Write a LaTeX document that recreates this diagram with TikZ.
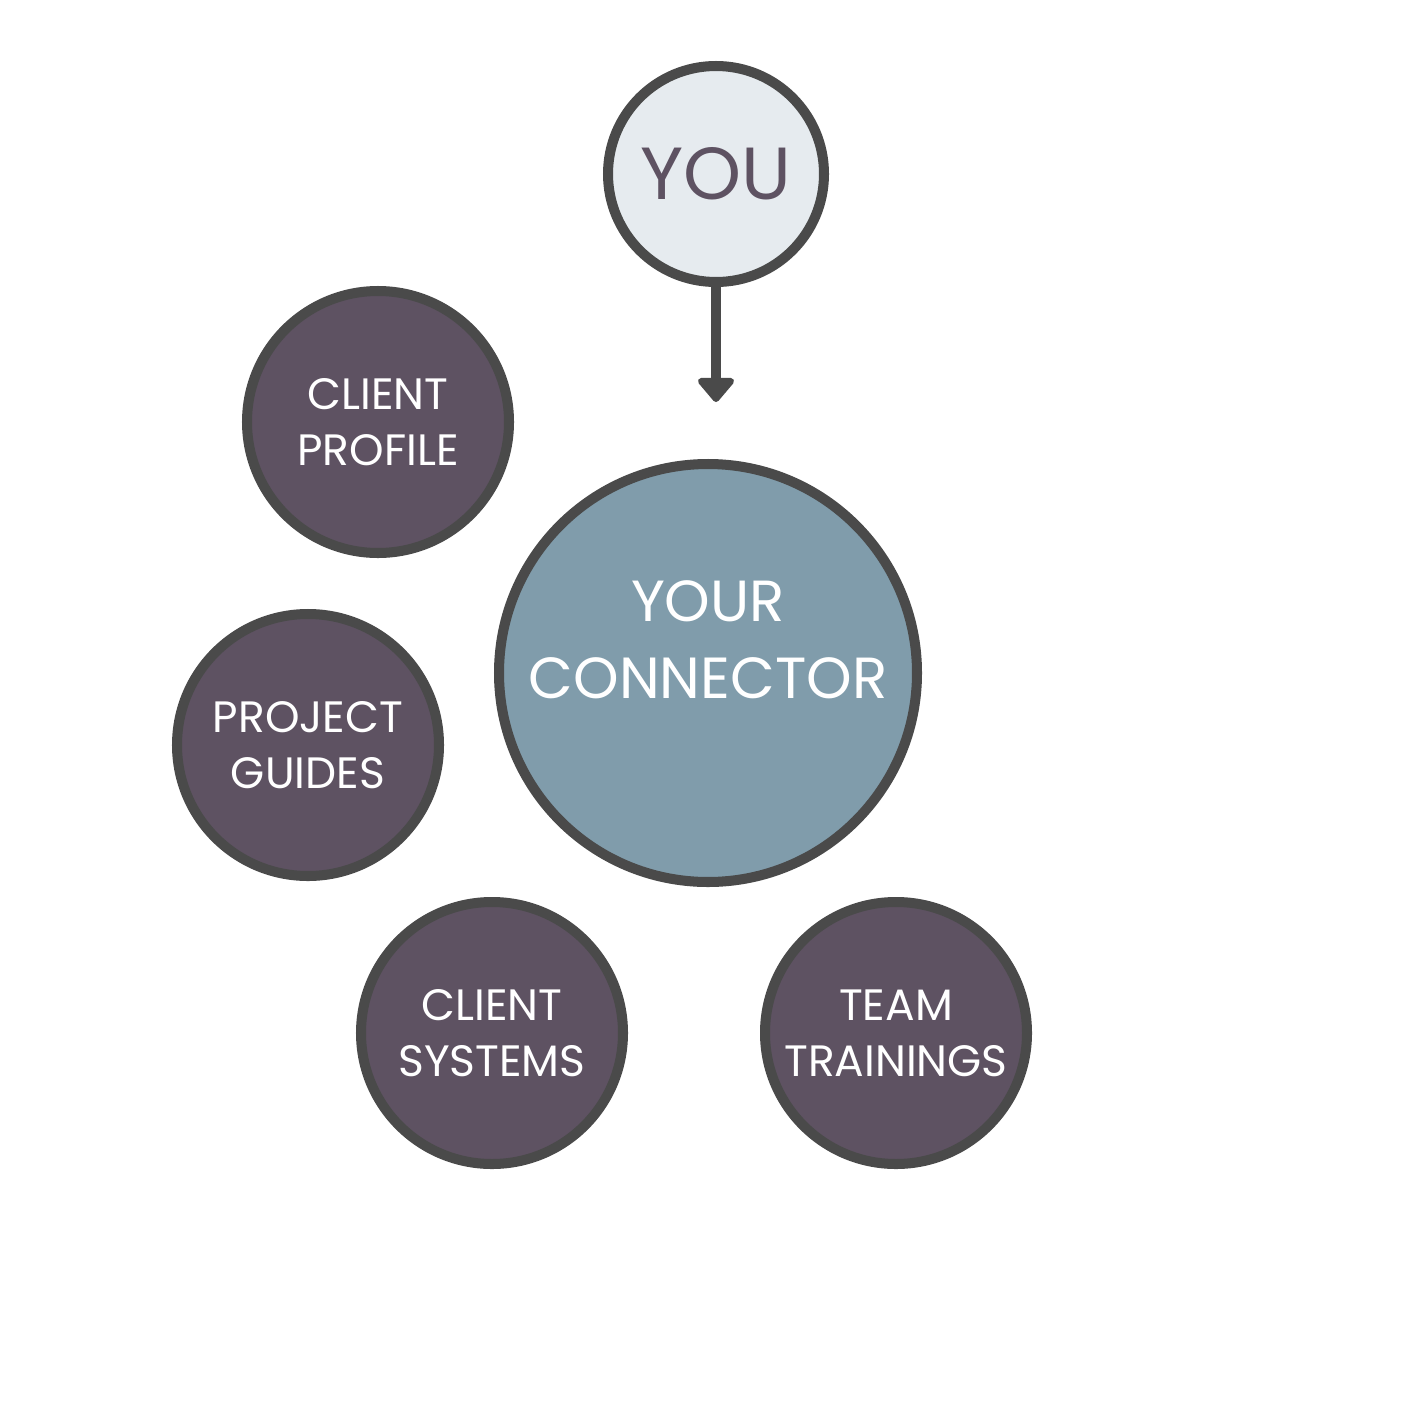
\documentclass[tikz,border=0pt]{standalone}
\usepackage{fontspec}
\setmainfont{Poppins}
\usetikzlibrary{positioning,arrows.meta}
\definecolor{plum}{HTML}{5E5262}
\definecolor{rim}{HTML}{4A4A4A}
\definecolor{mist}{HTML}{E6EBEF}
\definecolor{slate}{HTML}{809CAB}
\tikzset{
    topic/.style={circle, draw=rim, line width=2.85pt, fill=plum, text=white, minimum size=2.62cm, align=center, font=\fontsize{12.5}{16}\selectfont, inner sep=0pt},
    hub/.style={circle, draw=rim, line width=2.85pt, fill=slate, minimum size=4.18cm},
    hubtext/.style={text=white, align=center, font=\fontsize{16.5}{22}\selectfont},
    you/.style={circle, draw=rim, line width=2.85pt, fill=mist, text=plum, minimum size=2.16cm, font=\fontsize{21}{24}\selectfont},
    line/.style={draw=rim, line width=2.85pt, -{Triangle[width=4.2mm,length=2.6mm,round]}}
}
\begin{document}
\begin{tikzpicture}
    \useasboundingbox (0,0) rectangle (14.23,-14.23);
    % Centre
    \node [you] (you) at (7.16,-1.74) {YOU};
    \node [hub] (hub) at (7.08,-6.73) {};
    \node [hubtext] (hublabel) at (7.08,-6.40) {YOUR\\CONNECTOR};
    \coordinate (tip) at (7.16,-4.02);

    % Topics
    \node [topic] (profile) at (3.78,-4.22) {CLIENT\\PROFILE};
    \node [topic] (guides) at (3.08,-7.45) {PROJECT\\GUIDES};
    \node [topic] (systems) at (4.92,-10.33) {CLIENT\\SYSTEMS};
    \node [topic] (trainings) at (8.96,-10.33) {TEAM\\TRAININGS};

    % Arrow
    \path [line] (you.south) -- (tip);
\end{tikzpicture}
\end{document}
